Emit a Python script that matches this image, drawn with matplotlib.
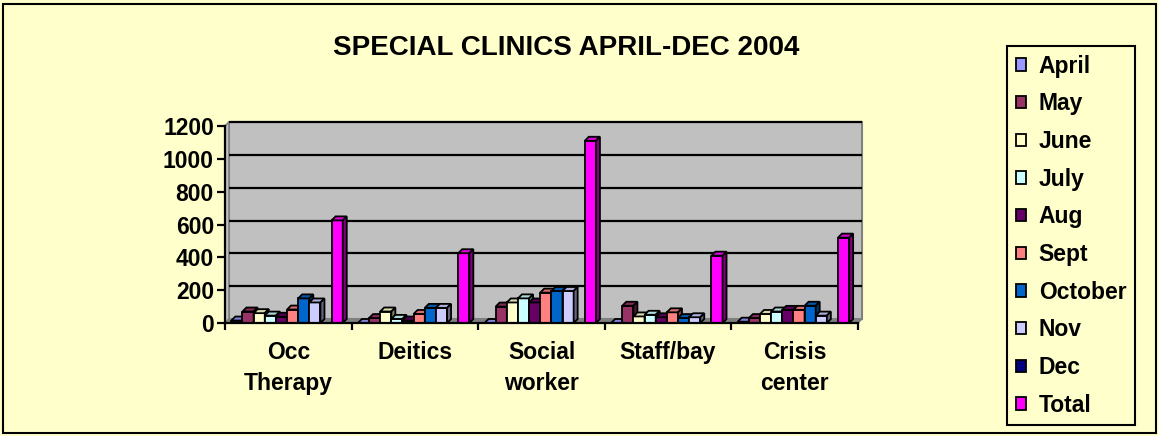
import numpy as np
import matplotlib
matplotlib.use("Agg")
from matplotlib import pyplot as plt
from matplotlib.patches import Polygon, Rectangle, Patch

plt.rcParams['font.family'] = ['Liberation Sans', 'DejaVu Sans']
plt.rcParams['font.weight'] = 'bold'

# values
categories = ["Occ\nTherapy", "Deitics", "Social\nworker", "Staff/bay", "Crisis\ncenter"]
months = ["April", "May", "June", "July", "Aug", "Sept", "October", "Nov", "Dec", "Total"]
april = [15, 0, 0, 0, 8]
may = [70, 30, 100, 105, 30]
june = [60, 70, 125, 40, 55]
july = [45, 25, 150, 50, 70]
aug = [38, 15, 125, 35, 80]
sept = [82, 55, 185, 65, 80]
october = [150, 92, 195, 30, 105]
nov = [125, 92, 195, 35, 45]
dec = [np.nan, np.nan, np.nan, np.nan, np.nan]
total = [625, 425, 1110, 410, 520]
series = [april, may, june, july, aug, sept, october, nov, dec, total]
colors = ["#9999FF", "#993366", "#FFFFCC", "#CCFFFF", "#660066",
          "#FF8080", "#0066CC", "#CCCCFF", "#000080", "#FF00FF"]
yticks = [0, 200, 400, 600, 800, 1000, 1200]

W, H = 1159, 436
fig = plt.figure(figsize=(W / 100, H / 100), dpi=100, facecolor="#FFFFCC")
ax = fig.add_axes([225 / W, 1 - 323 / H, 633 / W, 197 / H])
ax.set_xlim(0, len(categories))
ax.set_ylim(0, 1200)
ax.patch.set_visible(False)

# depth of the fake 3d, in data units (about 4 px each way)
dx = 4 / (633 / len(categories))
dy = 4 / (197 / 1200)
n = len(categories)

def shade(c, f):
    r, g, b = matplotlib.colors.to_rgb(c)
    return (r * f, g * f, b * f)

# back wall, side wall, floor
ax.add_patch(Rectangle((dx, dy), n, 1200, facecolor="#C0C0C0", edgecolor="#808080",
                       lw=1.5, zorder=0, clip_on=False))
ax.add_patch(Polygon([(0, 0), (dx, dy), (dx, 1200 + dy), (0, 1200)], closed=True,
                     facecolor="#C0C0C0", edgecolor="#808080", lw=1.2, zorder=0, clip_on=False))
ax.add_patch(Polygon([(0, 0), (n, 0), (n + dx, dy), (dx, dy)], closed=True,
                     facecolor="#808080", edgecolor="#808080", lw=1, zorder=0.5, clip_on=False))
for v in yticks[1:]:
    ax.plot([dx, n + dx], [v + dy, v + dy], color="black", lw=1.6, zorder=0.8,
            clip_on=False, solid_capstyle="butt")

width = 0.088
x = np.arange(n) + 0.5
for k, (vals, col) in enumerate(zip(series, colors)):
    pos = x + (k - 4.5) * width - 0.01
    bars = ax.bar(pos, vals, width=width, color=col, edgecolor="black", lw=1.3)
    for i, rect in enumerate(bars):
        h = vals[i]
        if np.isnan(h):
            rect.set_visible(False)
            continue
        z = 2 + i + k * 0.05
        rect.set_zorder(z)
        bx, bw = rect.get_x(), rect.get_width()
        top = Polygon([(bx, h), (bx + bw, h), (bx + bw + dx, h + dy), (bx + dx, h + dy)],
                      closed=True, facecolor=shade(col, 0.85), edgecolor="black",
                      lw=1.3, zorder=z, clip_on=False)
        side = Polygon([(bx + bw, 0), (bx + bw + dx, dy), (bx + bw + dx, h + dy), (bx + bw, h)],
                       closed=True, facecolor=shade(col, 0.5), edgecolor="black",
                       lw=1.3, zorder=z, clip_on=False)
        ax.add_patch(top)
        ax.add_patch(side)

for s in ["top", "right"]:
    ax.spines[s].set_visible(False)
for s in ["left", "bottom"]:
    ax.spines[s].set_linewidth(1.6)
    ax.spines[s].set_zorder(50)

ax.set_yticks(yticks)
ax.set_yticklabels([str(v) for v in yticks], fontsize=16.5, fontweight="bold")
ax.tick_params(axis="y", direction="out", length=6, width=1.6, pad=2)
ax.set_xticks(np.arange(n + 1))
ax.set_xticklabels([])
ax.tick_params(axis="x", direction="out", length=5, width=1.6)
for i, lab in enumerate(categories):
    ax.text(x[i], -110, lab, ha="center", va="top", fontsize=16.5, fontweight="bold",
            linespacing=1.42)

fig.text(566 / W, 1 - 48 / H, "SPECIAL CLINICS APRIL-DEC 2004", ha="center", va="center",
         fontsize=20, fontweight="bold")

handles = [Patch(facecolor=c, edgecolor="black", lw=1.3) for c in colors]
leg = fig.legend(handles, months, loc="upper left", bbox_to_anchor=(1007 / W, 1 - 46 / H),
                 frameon=True, fancybox=False, edgecolor="black", facecolor="#FFFFCC",
                 framealpha=1, prop={"size": 16.5, "weight": "bold"},
                 handlelength=0.45, handleheight=0.45, handletextpad=0.55,
                 labelspacing=0.64, borderpad=0.38, borderaxespad=0)
leg.get_frame().set_linewidth(1.5)

fig.patches.append(Rectangle((3 / W, 3 / H), 1153 / W, 429 / H, transform=fig.transFigure,
                             fill=False, edgecolor="black", lw=1.5))

fig.savefig("out.png", dpi=100, facecolor=fig.get_facecolor())
